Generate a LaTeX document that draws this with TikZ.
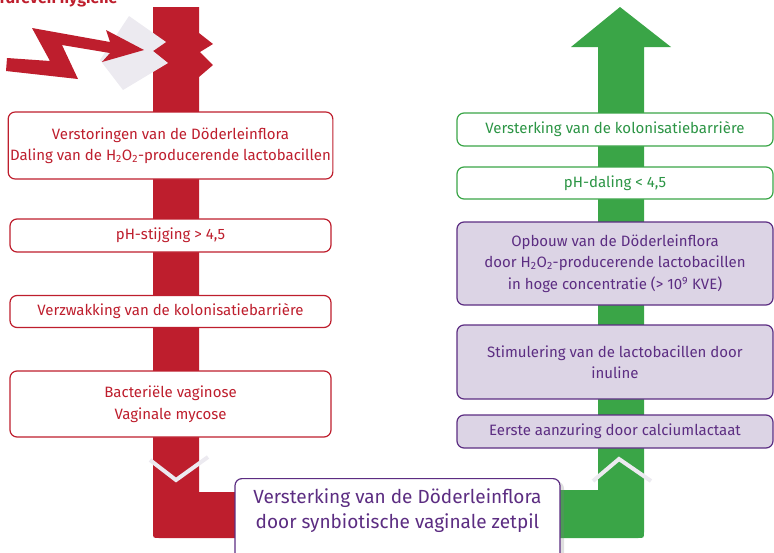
\documentclass[tikz,border=0pt]{standalone}
\usepackage{fontspec}
\setmainfont{Fira Sans}
\usetikzlibrary{shadows}
\definecolor{florared}{HTML}{BE1E2D}
\definecolor{floragreen}{HTML}{3AA547}
\definecolor{floragreentext}{HTML}{2C9545}
\definecolor{florapurple}{HTML}{5C2D82}
\definecolor{floralilac}{HTML}{DCD4E5}
\definecolor{floragray}{HTML}{ECEAF0}

\begin{document}
\begin{tikzpicture}[x=1pt, y=-1pt,
    box/.style={draw, rounded corners=7pt, line width=1.2pt, fill=white, align=center,
      font=\fontsize{15}{21.5}\selectfont, inner sep=2pt},
    redbox/.style={box, draw=florared, text=florared, minimum width=321pt},
    greenbox/.style={box, draw=floragreen, text=floragreentext, minimum width=316pt},
    lilacbox/.style={box, draw=florapurple, fill=floralilac, text=florapurple, minimum width=316pt},
    chevron/.style={draw=floragray, line width=4pt}]
  \useasboundingbox (0,0) rectangle (774,552);

  % broken red column, down and to the right
  \fill[florared] (153,7) -- (199,7) -- (199,33) -- (213,44) -- (200,52) -- (213,65)
    -- (199,77) -- (199,492) -- (400,492) -- (400,538) -- (159,538)
    .. controls (153,538) .. (153,532) -- cycle;
  \fill[floragray] (129,16) -- (166,42) -- (153,51) -- (168,63) -- (123,90) -- (100,60) -- cycle;
  \fill[florared] (7,58) -- (50,61) -- (32,28) -- (110,42) -- (106,30) -- (144,50)
    -- (102,62) -- (110,53) -- (62,45) -- (78,79) -- (6,71) -- cycle;
  \node[anchor=base east, text=florared, font=\fontsize{16}{16}\selectfont\bfseries]
    (hygiene) at (121,3.5) {Overdreven hygiëne};

  % green column up
  \fill[floragreen] (620,7) -- (671,47) -- (644,47) -- (644,532)
    .. controls (644,538) .. (638,538) -- (400,538) -- (400,490) -- (598,490)
    -- (598,47) -- (571,47) -- cycle;

  \draw[chevron] (150,460) -- (176,480) -- (208,457);
  \draw[chevron] (593,481) -- (619,459) -- (651,481);

  % left: disturbed flora
  \node[redbox, minimum height=67pt] (verstoring) at (170.5,145.5)
    {Verstoringen van de Döderleinflora\\Daling van de H\textsubscript{2}O\textsubscript{2}-producerende lactobacillen};
  \node[redbox, minimum height=33pt] (phstijging) at (170.5,235.5) {pH-stijging > 4,5};
  \node[redbox, minimum height=32pt] (verzwakking) at (170.5,311.5) {Verzwakking van de kolonisatiebarrière};
  \node[redbox, minimum height=66pt] (infectie) at (170.5,404) {Bacteriële vaginose\\Vaginale mycose};

  % right: restored flora
  \node[greenbox, minimum height=33pt] (barriere) at (615,129.5) {Versterking van de kolonisatiebarrière};
  \node[greenbox, minimum height=32pt] (phdaling) at (615,183) {pH-daling < 4,5};
  \node[lilacbox, minimum height=83pt] (opbouw) at (615,263.5)
    {Opbouw van de Döderleinflora\\door H\textsubscript{2}O\textsubscript{2}-producerende lactobacillen\\in hoge concentratie (> 10\textsuperscript{9} KVE)};
  \node[lilacbox, minimum height=74pt] (stimulering) at (615,362)
    {Stimulering van de lactobacillen door\\inuline};
  \node[lilacbox, minimum height=33pt] (aanzuring) at (615,431.5) {Eerste aanzuring door calciumlactaat};

  \node[box, draw=florapurple, text=florapurple, font=\fontsize{19}{25}\selectfont,
    minimum width=325pt, anchor=north, inner ysep=10pt, text depth=60pt,
    drop shadow={shadow xshift=4pt, shadow yshift=-3pt, opacity=.25}]
    (zetpil) at (397.5,478) {Versterking van de Döderleinflora\\door synbiotische vaginale zetpil};
\end{tikzpicture}
\end{document}
